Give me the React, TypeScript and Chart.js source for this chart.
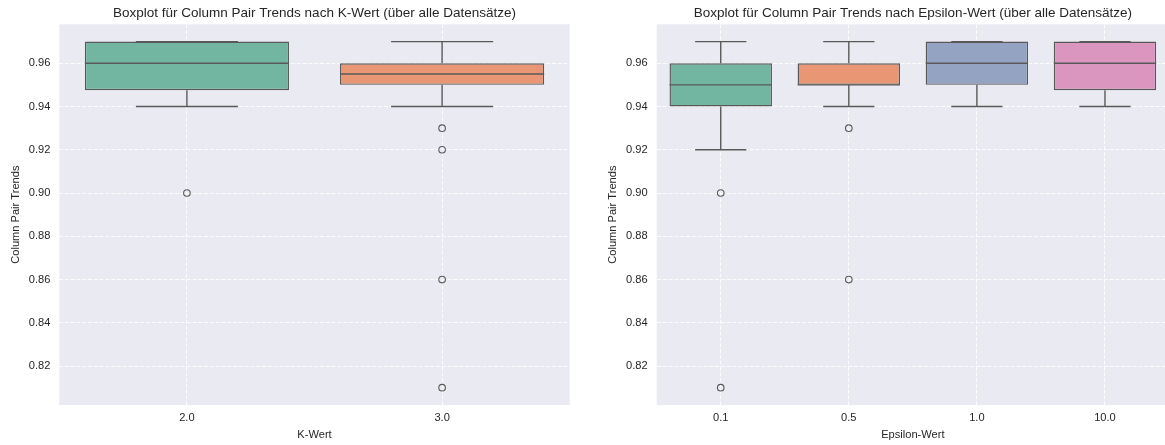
import React, { useEffect, useRef } from 'react';
import { Chart, registerables } from 'chart.js';

Chart.register(...registerables);

const FONT = "'Liberation Sans', Arial, sans-serif";
const TEXT = '#262626';
const LINE = '#595959';
const PANEL_BG = '#eaeaf2';
const GRID = 'rgba(255,255,255,0.85)';
const FILLS = ['#72b6a1', '#e99675', '#95a3c3', '#db96c0'];

// Column Pair Trends grouped by K
const kLabels = ['2.0', '3.0'];
const kQ1 = [0.9475, 0.95];
const kMedian = [0.96, 0.955];
const kQ3 = [0.97, 0.96];
const kWhiskerLow = [0.94, 0.94];
const kWhiskerHigh = [0.97, 0.97];
const kOutliers = [[0.9], [0.93, 0.92, 0.86, 0.81]];

// Column Pair Trends grouped by epsilon
const epsLabels = ['0.1', '0.5', '1.0', '10.0'];
const epsQ1 = [0.94, 0.95, 0.95, 0.9475];
const epsMedian = [0.95, 0.95, 0.96, 0.96];
const epsQ3 = [0.96, 0.96, 0.97, 0.97];
const epsWhiskerLow = [0.92, 0.94, 0.94, 0.94];
const epsWhiskerHigh = [0.97, 0.97, 0.97, 0.97];
const epsOutliers = [[0.9, 0.81], [0.93, 0.86], [], []];

const yTicks = [0.82, 0.84, 0.86, 0.88, 0.9, 0.92, 0.94, 0.96];
const Y_MIN = 0.802;
const Y_MAX = 0.978;

type BoxStats = {
  labels: string[];
  q1: number[];
  median: number[];
  q3: number[];
  lo: number[];
  hi: number[];
  outliers: number[][];
  title: string;
  xTitle: string;
};

// Panel background, whiskers, caps and median lines drawn on top of the box bars
function boxExtras(s: BoxStats) {
  return {
    id: 'boxExtras',
    beforeDraw(chart: any) {
      const { ctx, chartArea: a } = chart;
      ctx.save();
      ctx.fillStyle = PANEL_BG;
      ctx.fillRect(a.left, a.top, a.right - a.left, a.bottom - a.top);
      ctx.restore();
    },
    afterDatasetsDraw(chart: any) {
      const { ctx } = chart;
      const y = chart.scales.y;
      const meta = chart.getDatasetMeta(0);
      ctx.save();
      ctx.strokeStyle = LINE;
      ctx.lineWidth = 1.4;
      const seg = (x1: number, y1: number, x2: number, y2: number) => {
        ctx.beginPath();
        ctx.moveTo(x1, y1);
        ctx.lineTo(x2, y2);
        ctx.stroke();
      };
      s.labels.forEach((_, i) => {
        const bar = meta.data[i];
        const cx = bar.x;
        const half = bar.width / 2;
        const cap = half / 2;
        const yQ1 = y.getPixelForValue(s.q1[i]);
        const yQ3 = y.getPixelForValue(s.q3[i]);
        const yLo = y.getPixelForValue(s.lo[i]);
        const yHi = y.getPixelForValue(s.hi[i]);
        const yMed = y.getPixelForValue(s.median[i]);
        seg(cx, yQ1, cx, yLo);
        seg(cx - cap, yLo, cx + cap, yLo);
        seg(cx, yQ3, cx, yHi);
        seg(cx - cap, yHi, cx + cap, yHi);
        seg(cx - half, yMed, cx + half, yMed);
      });
      ctx.restore();
    },
  };
}

function buildConfig(s: BoxStats, yAxisWidth: number, padRight: number): any {
  const outlierPoints = s.outliers.flatMap((vals, i) =>
    vals.map((v) => ({ x: s.labels[i], y: v }))
  );
  return {
    type: 'bar',
    data: {
      labels: s.labels,
      datasets: [
        {
          type: 'bar',
          data: s.labels.map((_, i) => [s.q1[i], s.q3[i]]),
          backgroundColor: s.labels.map((_, i) => FILLS[i]),
          borderColor: LINE,
          borderWidth: 1.4,
          borderSkipped: false,
          categoryPercentage: 1,
          barPercentage: 0.8,
        },
        {
          type: 'scatter',
          data: outlierPoints,
          pointStyle: 'circle',
          pointRadius: 3.3,
          pointBorderWidth: 1.1,
          pointBorderColor: LINE,
          pointBackgroundColor: 'rgba(0,0,0,0)',
          showLine: false,
        },
      ],
    },
    options: {
      responsive: false,
      animation: false,
      devicePixelRatio: 1,
      layout: { padding: { left: 0, right: padRight, top: 0, bottom: 0 } },
      plugins: {
        legend: { display: false },
        tooltip: { enabled: false },
        title: {
          display: true,
          text: s.title,
          color: TEXT,
          fullSize: false,
          font: { family: FONT, size: 13.5, weight: 'normal' },
          padding: { top: 5.2, bottom: 2.9 },
        },
      },
      scales: {
        x: {
          type: 'category',
          offset: true,
          afterFit: (sc: any) => {
            sc.height = 40;
          },
          grid: { offset: false, color: GRID, lineWidth: 1, drawTicks: false },
          border: { display: false, dash: [4, 1.8] },
          ticks: { padding: 6.6, color: TEXT, font: { family: FONT, size: 11.1 } },
          title: {
            display: true,
            text: s.xTitle,
            color: TEXT,
            font: { family: FONT, size: 11.1 },
            padding: { top: 0, bottom: 3.84 },
          },
        },
        y: {
          type: 'linear',
          min: Y_MIN,
          max: Y_MAX,
          afterBuildTicks: (sc: any) => {
            sc.ticks = yTicks.map((v) => ({ value: v }));
          },
          afterFit: (sc: any) => {
            sc.width = yAxisWidth;
          },
          grid: { color: GRID, lineWidth: 1, drawTicks: false },
          border: { display: false, dash: [4, 1.8] },
          ticks: {
            padding: 9,
            color: TEXT,
            font: { family: FONT, size: 11.1 },
            callback: (v: any) => Number(v).toFixed(2),
          },
          title: {
            display: true,
            text: 'Column Pair Trends',
            color: TEXT,
            font: { family: FONT, size: 11.1 },
            padding: { top: 9.3, bottom: 0 },
          },
        },
      },
    },
    plugins: [boxExtras(s)],
  };
}

export default function App() {
  const leftRef = useRef<HTMLCanvasElement>(null);
  const rightRef = useRef<HTMLCanvasElement>(null);

  useEffect(() => {
    const kStats: BoxStats = {
      labels: kLabels,
      q1: kQ1,
      median: kMedian,
      q3: kQ3,
      lo: kWhiskerLow,
      hi: kWhiskerHigh,
      outliers: kOutliers,
      title: 'Boxplot für Column Pair Trends nach K-Wert (über alle Datensätze)',
      xTitle: 'K-Wert',
    };
    const epsStats: BoxStats = {
      labels: epsLabels,
      q1: epsQ1,
      median: epsMedian,
      q3: epsQ3,
      lo: epsWhiskerLow,
      hi: epsWhiskerHigh,
      outliers: epsOutliers,
      title: 'Boxplot für Column Pair Trends nach Epsilon-Wert (über alle Datensätze)',
      xTitle: 'Epsilon-Wert',
    };
    const left = new Chart(leftRef.current as HTMLCanvasElement, buildConfig(kStats, 59.3, 15.3));
    const right = new Chart(rightRef.current as HTMLCanvasElement, buildConfig(epsStats, 59.7, 13));
    return () => {
      left.destroy();
      right.destroy();
    };
  }, []);

  return (
    <div
      style={{
        position: 'absolute',
        left: 0,
        top: 0,
        width: 1165,
        height: 445,
        overflow: 'hidden',
        background: '#ffffff',
      }}
    >
      <canvas
        ref={leftRef}
        width={585}
        height={445}
        style={{ position: 'absolute', left: 0, top: 0, width: 585, height: 445 }}
      />
      <canvas
        ref={rightRef}
        width={585}
        height={445}
        style={{ position: 'absolute', left: 597, top: 0, width: 585, height: 445 }}
      />
    </div>
  );
}
